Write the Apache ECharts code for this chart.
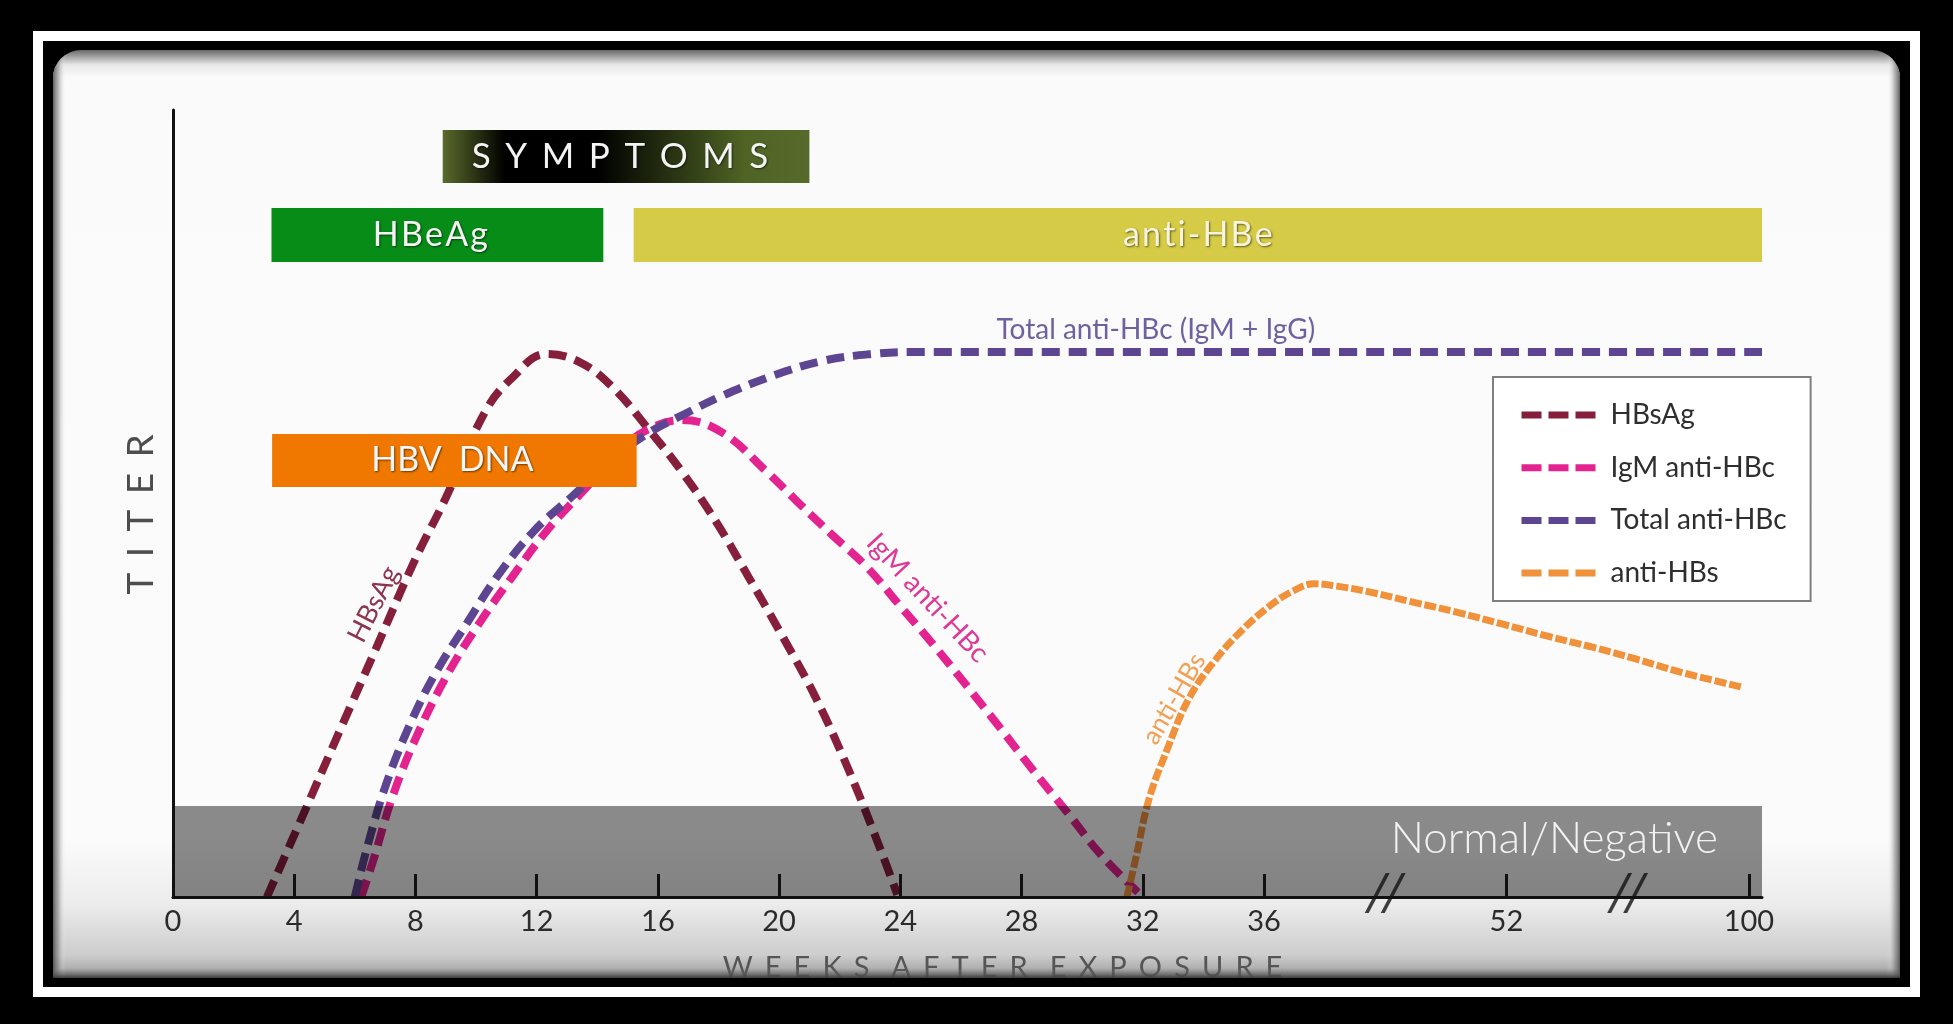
<!DOCTYPE html>
<html><head><meta charset="utf-8">
<script src="https://cdn.jsdelivr.net/npm/echarts@6/dist/echarts.min.js"></script>
<style>html,body{margin:0;padding:0;background:#000;}#c{width:1953px;height:1024px;}</style>
</head><body><div id="c"></div>
<script>
// ---------- DATA ----------
const xTickWeeks = [0, 4, 8, 12, 16, 20, 24, 28, 32, 36, 52, 100];
const axisBreakWeeks = [44, 76];

const seriesNames = ['HBsAg', 'IgM anti-HBc', 'Total anti-HBc', 'anti-HBs'];

const hbsagWeeks = [3.1, 4.3, 5.5, 6.7, 7.98, 9.0, 10.32, 11.2, 12.3, 13.4, 14.5, 15.7, 16.8, 17.9, 19.0, 20.1, 21.2, 22.3, 23.4, 23.9];
const hbsagTiter = [0, 10.5, 21.1, 31.6, 42.8, 50.7, 61.8, 66.0, 69.0, 68.0, 64.8, 59.4, 54.0, 47.8, 40.6, 33.2, 25.4, 16.1, 5.5, 0.3];

const igmWeeks = [6.21, 6.62, 7.24, 8.06, 9.09, 10.11, 11.14, 12.37, 13.61, 14.84, 15.66, 16.81, 18.13, 19.6, 20.69, 21.78, 22.9, 23.99, 25.08, 26.2, 27.29, 28.38, 29.5, 30.59, 31.84];
const igmTiter = [0, 4.8, 12.7, 20.6, 28.5, 34.8, 40.4, 46.7, 51.9, 57.0, 59.4, 60.6, 59.0, 54.0, 49.9, 45.9, 41.9, 37.0, 32.1, 26.8, 21.5, 16.1, 10.8, 5.5, 0.6];

const totalWeeks = [6.0, 6.41, 7.03, 7.85, 8.67, 9.7, 10.73, 11.96, 13.2, 14.43, 15.66, 16.9, 18.13, 19.77, 21.41, 23.06, 24.5, 102.6];
const totalTiter = [0, 6.35, 14.3, 22.2, 28.5, 34.8, 40.9, 46.7, 51.0, 55.4, 58.9, 61.4, 63.7, 66.2, 68.1, 69.0, 69.25, 69.25];

const antiHbsWeeks = [31.48, 31.78, 32.2, 32.8, 33.52, 34.41, 35.3, 36.39, 37.84, 39.3, 40.8, 42.86, 45.76, 48.7, 51.7, 59.8, 68.7, 77.6, 86.3, 98.4];
const antiHbsTiter = [0, 5.1, 12.35, 18.7, 25.2, 30.2, 34.0, 37.0, 38.8, 39.8, 39.5, 38.8, 37.5, 36.2, 34.7, 33.2, 31.8, 30.25, 28.6, 26.7];

// marker bars: name, start week, end week, low titer, high titer
const barNames = ['SYMPTOMS', 'HBeAg', 'anti-HBe', 'HBV DNA', 'Normal/Negative'];
const barStartWeek = [8.9, 3.25, 15.2, 3.27, 0];
const barEndWeek = [21.0, 14.2, 102.6, 15.3, 102.6];
const barLow = [90.73, 80.69, 80.69, 52.1, 0];
const barHigh = [97.46, 87.55, 87.55, 58.83, 11.56];

// in-chart curve captions
const captionTexts = ['HBsAg', 'IgM anti-HBc', 'Total anti-HBc (IgM + IgG)', 'anti-HBs'];

// ---------- SCALE (broken week axis) ----------
function pos(w) {
  if (w <= 36) return w / 4;
  if (w <= 52) return 9 + (w - 36) / 8;
  return 11 + (w - 52) / 24;
}
const FONT = 'Lato, "Open Sans", "DejaVu Sans", sans-serif';
function spaced(t, sep) { return t.split('').join(sep); }
const GAP = '\u2005\u2006';

// ---------- STYLES ----------
const lineColors = ['#861f3c', '#e3238f', '#5e4591', '#f0923c'];
const captionStyle = [
  { coord: [6.62, 37.2], rotate: 63, color: '#8c3550', size: 27 },
  { coord: [24.9, 38.0], rotate: -47, color: '#dc3a96', size: 28 },
  { coord: [32.43, 72.05], rotate: 0, color: '#6f61a0', size: 28 },
  { coord: [33.03, 25.2], rotate: 60, color: '#f2a055', size: 26 }
];
const barStyle = [
  { fill: new echarts.graphic.LinearGradient(0, 0, 1, 0, [
      { offset: 0, color: '#5a6b2b' }, { offset: 0.17, color: '#000' },
      { offset: 0.42, color: '#000' }, { offset: 0.82, color: '#4e6324' }, { offset: 1, color: '#566a2b' }]),
    text: spaced('SYMPTOMS', GAP), color: '#f4f4f4', size: 35, dx: -6 },
  { fill: '#078c17', text: spaced('HBeAg', '\u200A'), color: '#f4f4f4', size: 34, dx: -7 },
  { fill: '#d6cb46', text: spaced('anti-HBe', '\u200A'), color: '#f8f5dc', size: 34, dx: 0 },
  { fill: '#f07800', text: 'HBV\u2002DNA', color: '#f7f7f7', size: 34, dx: -2 },
  { fill: 'rgba(0,0,0,0.45)', text: 'Normal/Negative', color: '#f2f2f2', size: 44, right: 44, dy: -13, weight: 300 }
];

const lineData = [
  hbsagWeeks.map((w, i) => [pos(w), hbsagTiter[i]]),
  igmWeeks.map((w, i) => [pos(w), igmTiter[i]]),
  totalWeeks.map((w, i) => [pos(w), totalTiter[i]]),
  antiHbsWeeks.map((w, i) => [pos(w), antiHbsTiter[i]])
];

const lineSeries = seriesNames.map((name, k) => ({
  name: name,
  type: 'line',
  data: lineData[k],
  symbol: 'none',
  smooth: 0.4,
  z: 2,
  lineStyle: k === 3
    ? { color: lineColors[k], width: 7, type: [12, 3] }
    : { color: lineColors[k], width: 8, type: [18, 9] },
  itemStyle: { color: lineColors[k] },
  markPoint: {
    symbol: 'circle', symbolSize: 1, silent: true,
    itemStyle: { color: 'rgba(0,0,0,0)' },
    label: {
      show: true, position: 'inside',
      formatter: captionTexts[k],
      rotate: captionStyle[k].rotate,
      color: captionStyle[k].color,
      fontSize: captionStyle[k].size,
      fontFamily: FONT, fontWeight: 'normal'
    },
    data: [{ coord: [pos(captionStyle[k].coord[0]), captionStyle[k].coord[1]] }]
  }
}));

const barSeries = {
  type: 'custom',
  name: 'bars',
  z: 4,
  silent: true,
  data: barNames.map((n, i) => [pos(barStartWeek[i]), pos(barEndWeek[i]), barLow[i], barHigh[i], i]),
  encode: { x: [0, 1], y: [2, 3] },
  renderItem: function (params, api) {
    const i = api.value(4);
    const p0 = api.coord([api.value(0), api.value(3)]);
    const p1 = api.coord([api.value(1), api.value(2)]);
    const st = barStyle[i];
    const w = p1[0] - p0[0], h = p1[1] - p0[1];
    let tx, align;
    if (st.right != null) { tx = p1[0] - st.right; align = 'right'; }
    else { tx = p0[0] + w / 2 + (st.dx || 0); align = 'center'; }
    const ty = p0[1] + h / 2 + (st.dy || 0);
    return {
      type: 'group',
      children: [
        { type: 'rect', shape: { x: p0[0], y: p0[1], width: w, height: h }, style: { fill: st.fill } },
        { type: 'text', x: tx, y: ty, style: {
            text: st.text, fill: st.color, align: align, verticalAlign: 'middle',
            font: (st.weight === 300 ? '300 ' : '') + st.size + 'px ' + FONT,
            textShadowColor: i === 4 ? 'rgba(0,0,0,0)' : 'rgba(0,0,0,0.55)',
            textShadowBlur: 2, textShadowOffsetX: 1, textShadowOffsetY: 1
          } }
      ]
    };
  }
};

const breakSeries = {
  type: 'scatter', name: 'breaks', silent: true, clip: false, z: 12,
  data: axisBreakWeeks.map(w => [pos(w), 0]),
  symbol: 'path://M0,40L21,0L25,0L4,40Z M16,40L37,0L41,0L20,40Z',
  symbolSize: [41, 40], symbolOffset: [0, -4],
  itemStyle: { color: '#111' }
};

const chart = echarts.init(document.getElementById('c'), null, { width: 1953, height: 1024, renderer: 'canvas' });

const panelFill = new echarts.graphic.LinearGradient(0, 0, 0, 1, [
  { offset: 0, color: '#6a6a6a' }, { offset: 0.008, color: '#a8a8a8' }, { offset: 0.016, color: '#e8e8e8' },
  { offset: 0.03, color: '#fafafa' }, { offset: 0.85, color: '#fbfbfb' }, { offset: 0.92, color: '#ececec' },
  { offset: 0.975, color: '#cdcdcd' }, { offset: 1, color: '#9a9a9a' }]);
const panelSides = new echarts.graphic.LinearGradient(0, 0, 1, 0, [
  { offset: 0, color: 'rgba(70,70,70,0.85)' }, { offset: 0.003, color: 'rgba(130,130,130,0.55)' },
  { offset: 0.007, color: 'rgba(255,255,255,0)' }, { offset: 0.993, color: 'rgba(255,255,255,0)' },
  { offset: 0.997, color: 'rgba(130,130,130,0.55)' }, { offset: 1, color: 'rgba(70,70,70,0.85)' }]);

chart.setOption({
  animation: false,
  backgroundColor: 'transparent',
  textStyle: { fontFamily: FONT },
  graphic: [
    { type: 'rect', z: -10, silent: true, shape: { x: 53, y: 50, width: 1847, height: 928, r: [28, 28, 4, 4] }, style: { fill: panelFill } },
    { type: 'rect', z: -9, silent: true, shape: { x: 53, y: 50, width: 1847, height: 928, r: [28, 28, 4, 4] }, style: { fill: panelSides } },
    { type: 'rect', z: 50, silent: true, shape: { x: 53, y: 968, width: 1847, height: 10 },
      style: { fill: new echarts.graphic.LinearGradient(0, 0, 0, 1, [{ offset: 0, color: 'rgba(120,120,120,0)' }, { offset: 1, color: 'rgba(60,60,60,1)' }]) } },
    { type: 'rect', z: 51, silent: true, shape: { x: 40, y: 978, width: 1873, height: 10 }, style: { fill: '#000' } },
    { type: 'rect', z: 52, silent: true, shape: { x: 38, y: 36, width: 1877, height: 956 }, style: { fill: 'none', stroke: '#fff', lineWidth: 10 } }
  ],
  grid: { left: 173, right: 191, top: 110, bottom: 127, containLabel: false },
  legend: {
    data: seriesNames,
    orient: 'vertical', left: 1493, top: 377,
    itemWidth: 74, itemHeight: 14, itemGap: 22.7,
    padding: [23, 24, 13, 25],
    backgroundColor: '#ffffff', borderColor: '#7f7f7f', borderWidth: 2, borderRadius: 0,
    selectedMode: false,
    itemStyle: { opacity: 0 },
    lineStyle: { width: 7, type: [20, 7] },
    textStyle: { fontFamily: FONT, fontSize: 28, color: '#2e2e2e', lineHeight: 30, padding: [0, 0, 0, 10] }
  },
  xAxis: {
    type: 'value', min: 0, max: pos(102.6), z: 10,
    axisLine: { show: true, lineStyle: { color: '#111', width: 3 } },
    axisTick: { show: true, inside: true, length: 23, lineStyle: { color: '#111', width: 3 }, customValues: xTickWeeks.map(pos) },
    axisLabel: {
      customValues: xTickWeeks.map(pos), margin: 10,
      fontFamily: FONT, fontSize: 29, color: '#2b2b2b',
      formatter: function (v) {
        const i = xTickWeeks.findIndex(w => Math.abs(pos(w) - v) < 1e-6);
        return i >= 0 ? String(xTickWeeks[i]) : '';
      }
    },
    splitLine: { show: false },
    name: spaced('WEEKS', GAP) + '\u2002 ' + spaced('AFTER', GAP) + '\u2002 ' + spaced('EXPOSURE', GAP),
    nameLocation: 'middle', nameGap: 56,
    nameTextStyle: { fontFamily: FONT, fontSize: 29, fontWeight: 'normal', color: '#555', padding: [0, 0, 0, 70] }
  },
  yAxis: {
    type: 'value', min: 0, max: 100, z: 10,
    axisLine: { show: true, lineStyle: { color: '#111', width: 3 } },
    axisTick: { show: false }, axisLabel: { show: false }, splitLine: { show: false },
    name: spaced('TITER', GAP), nameLocation: 'middle', nameRotate: 90, nameGap: 13,
    nameTextStyle: { fontFamily: FONT, fontSize: 37, fontWeight: 'normal', color: '#4d4d4d', padding: [0, 22, 0, 0] }
  },
  series: lineSeries.concat([barSeries, breakSeries])
});
</script></body></html>
